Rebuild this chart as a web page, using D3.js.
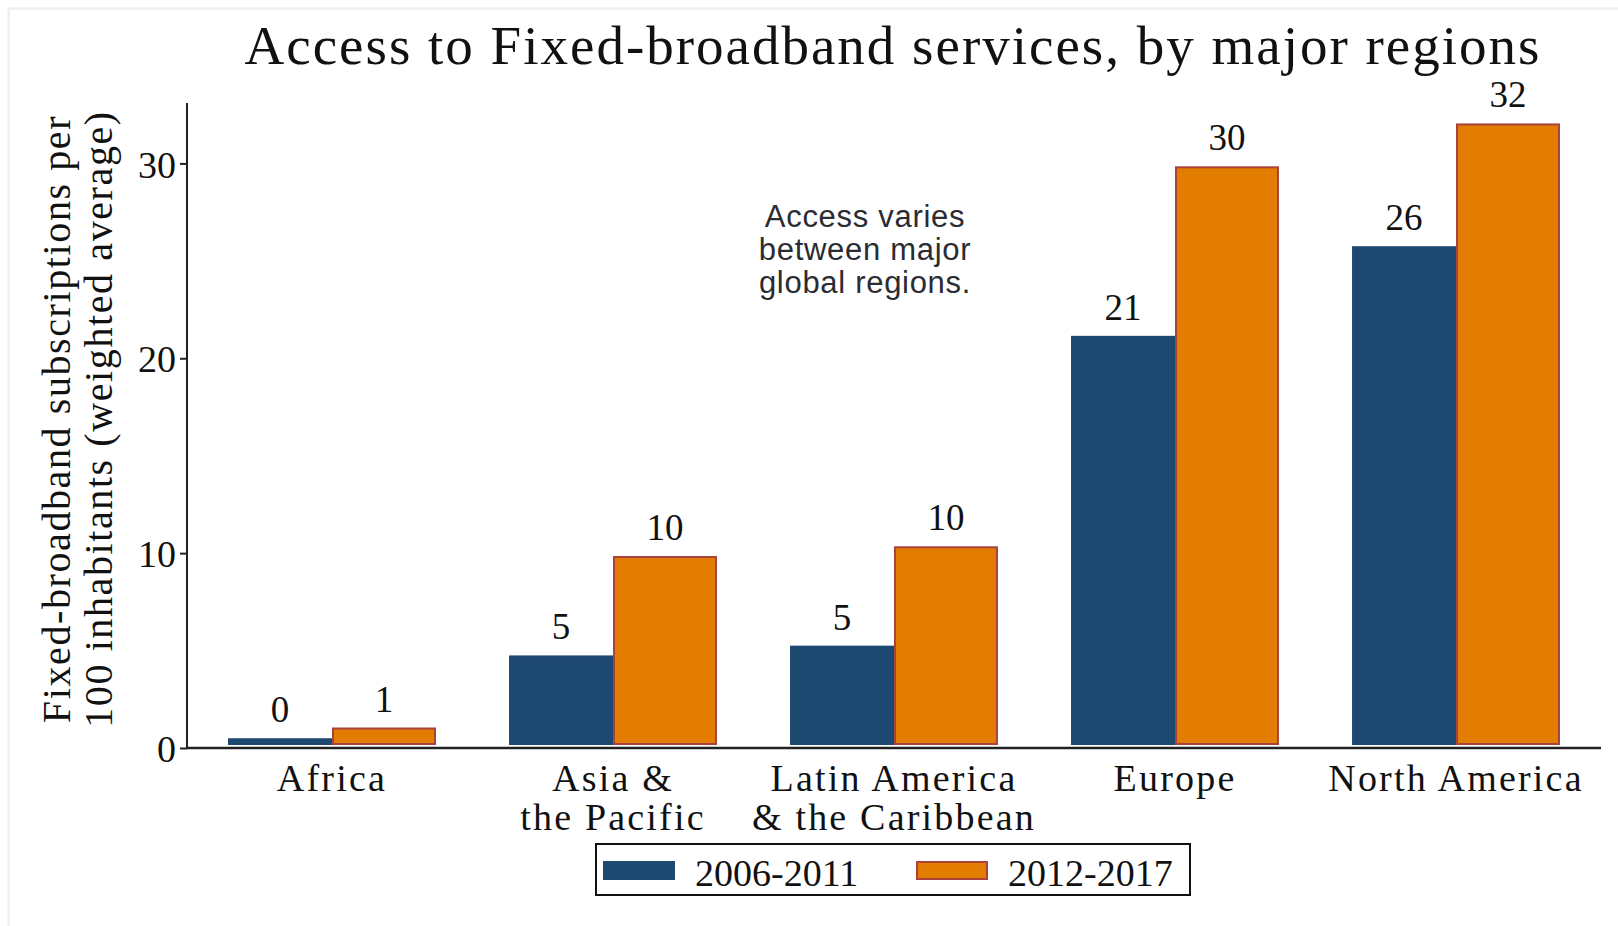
<!DOCTYPE html>
<meta charset="utf-8">
<style>
    body {
        margin: 0;
        background-color: #fff;
    }
    svg {
        display: block;
    }
    text {
        font-family: "Liberation Serif", serif;
        fill: #111;
    }
    .note text {
        font-family: "Liberation Sans", Arial, sans-serif;
        fill: #2b2b33;
    }
</style>
<svg width="1618" height="926"></svg>
<script src="https://d3js.org/d3.v7.min.js"></script>
<script>
    var regions = [["Africa"], ["Asia &", "the Pacific"], ["Latin America", "& the Caribbean"], ["Europe"], ["North America"]];
    var periods = ["2006-2011", "2012-2017"];
    var early = [0.45, 4.7, 5.2, 21.1, 25.7];
    var late = [1.0, 9.8, 10.3, 29.8, 32.0];
    var yTicks = [0, 10, 20, 30];
    var noteLines = ["Access varies", "between major", "global regions."];

    var svg = d3.select("svg");
    var fills = ["#1d4870", "#e27d00"];
    var strokes = ["#1d4870", "#a8423a"];

    // faint outer frame
    svg.append("rect")
        .attr("x", 8.5).attr("y", 8.5)
        .attr("width", 1700).attr("height", 1000)
        .attr("fill", "none")
        .attr("stroke", "#e8eef2")
        .attr("stroke-width", 2);

    var x0 = d3.scaleBand()
        .domain(d3.range(regions.length))
        .range([187, 1601])
        .paddingInner(0.26)
        .paddingOuter(0.146);

    var x1 = d3.scaleBand()
        .domain([0, 1])
        .range([0, x0.bandwidth()]);

    var y = d3.scaleLinear()
        .domain([0, 33.1])
        .range([748, 103]);

    svg.append("text")
        .attr("x", 893)
        .attr("y", 64)
        .attr("text-anchor", "middle")
        .style("font-size", "55px")
        .style("letter-spacing", "2px")
        .text("Access to Fixed-broadband services, by major regions");

    // bars
    var groups = svg.append("g")
        .selectAll("g")
        .data(regions)
        .enter().append("g")
        .attr("transform", function(d, i) {
            return "translate(" + x0(i) + ",0)";
        });

    groups.selectAll("rect")
        .data(function(d, i) {
            return [early[i], late[i]];
        })
        .enter().append("rect")
        .attr("x", function(d, j) { return x1(j) + 1; })
        .attr("width", x1.bandwidth() - 2)
        .attr("y", function(d) { return y(d); })
        .attr("height", function(d) { return y(0) - 4 - y(d); })
        .attr("fill", function(d, j) { return fills[j]; })
        .attr("stroke", function(d, j) { return strokes[j]; })
        .attr("stroke-width", 2);

    groups.selectAll("text.val")
        .data(function(d, i) {
            return [early[i], late[i]];
        })
        .enter().append("text")
        .attr("class", "val")
        .attr("x", function(d, j) { return x1(j) + x1.bandwidth() / 2; })
        .attr("y", function(d) { return y(d) - 17; })
        .attr("text-anchor", "middle")
        .style("font-size", "37px")
        .text(function(d) { return d3.format(".0f")(d); });

    // axes
    var yAxis = svg.append("g")
        .attr("transform", "translate(187,0)")
        .call(d3.axisLeft(y).tickValues(yTicks).tickSize(7).tickPadding(4));
    yAxis.select(".domain").attr("d", "M0," + y(0) + "V103");
    yAxis.selectAll("text").style("font-size", "38px").attr("dy", "0.36em");
    yAxis.selectAll("line, path").attr("stroke", "#222").attr("stroke-width", 2);

    svg.append("line")
        .attr("x1", 186).attr("x2", 1601)
        .attr("y1", y(0)).attr("y2", y(0))
        .attr("stroke", "#222")
        .attr("stroke-width", 2.5);

    // category labels, one text per line
    var catLabels = svg.append("g")
        .selectAll("g")
        .data(regions)
        .enter().append("g");
    catLabels.selectAll("text")
        .data(function(d, i) {
            return d.map(function(s) { return {s: s, i: i}; });
        })
        .enter().append("text")
        .attr("x", function(d) { return x0(d.i) + x0.bandwidth() / 2; })
        .attr("y", function(d, k) { return 791 + k * 39; })
        .attr("text-anchor", "middle")
        .style("font-size", "38px")
        .style("letter-spacing", "2.2px")
        .text(function(d) { return d.s; });

    // y title
    var yTitle = svg.append("text")
        .attr("transform", "translate(70,419) rotate(-90)")
        .attr("text-anchor", "middle")
        .style("font-size", "40px")
        .style("letter-spacing", "1.6px");
    yTitle.append("tspan").attr("x", 0).attr("dy", 0).text("Fixed-broadband subscriptions per");
    yTitle.append("tspan").attr("x", 0).attr("dy", 42).text("100 inhabitants (weighted average)");

    // note
    svg.append("g").attr("class", "note")
        .selectAll("text")
        .data(noteLines)
        .enter().append("text")
        .attr("x", 865)
        .attr("y", function(d, i) { return 227 + i * 33; })
        .attr("text-anchor", "middle")
        .style("font-size", "31px")
        .style("letter-spacing", "0.7px")
        .text(function(d) { return d; });

    // legend
    var legend = svg.append("g");
    legend.append("rect")
        .attr("x", 596).attr("y", 844)
        .attr("width", 594).attr("height", 51)
        .attr("fill", "#fff")
        .attr("stroke", "#111")
        .attr("stroke-width", 2);
    var swatchX = [604, 917];
    periods.forEach(function(p, j) {
        legend.append("rect")
            .attr("x", swatchX[j]).attr("y", 862)
            .attr("width", 70).attr("height", 17)
            .attr("fill", fills[j])
            .attr("stroke", strokes[j])
            .attr("stroke-width", 2);
        legend.append("text")
            .attr("x", swatchX[j] + 91)
            .attr("y", 886)
            .style("font-size", "38px")
            .text(p);
    });
</script>
